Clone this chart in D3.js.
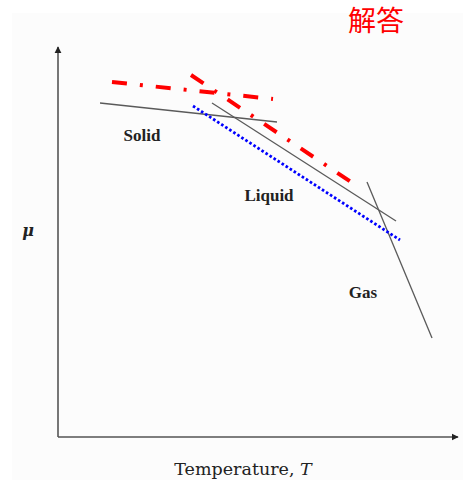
<!DOCTYPE html>
<html>
<head>
<meta charset="utf-8">
<script src="https://cdn.jsdelivr.net/npm/d3@7"></script>
<style>
  html, body { margin: 0; padding: 0; background: #fff; }
  svg { display: block; }
</style>
</head>
<body>
<svg id="chart" width="463" height="480"></svg>
<script>
// Chemical potential μ versus temperature T for the three phases (schematic units)
const solidLine  = [[1.05, 8.35], [5.475, 7.875]];
const liquidLine = [[3.85, 8.35], [8.45, 5.40]];
const gasLine    = [[7.725, 6.375], [9.35, 2.475]];

// Answer curves
const answerSolid  = [[1.35, 8.875], [5.375, 8.45]];
const answerLiquid = [[3.325, 9.05], [7.325, 6.375]];
const answerShift  = [[3.375, 8.275], [8.55, 4.925]];

const phaseLabels = [
  { text: "Solid",  at: [2.1, 7.4] },
  { text: "Liquid", at: [5.275, 5.9] },
  { text: "Gas",    at: [7.625, 3.47] }
];
const xTitle = "Temperature, ";
const xTitleVar = "T";
const yTitle = "μ";
const answerTitle = "解答";

const svg = d3.select("#chart");
const W = 463, H = 480;

// faint scanned-page background
svg.append("rect").attr("x", 12).attr("y", 13).attr("width", W - 12).attr("height", H - 13)
  .attr("fill", "#fcfcfc");

const x = d3.scaleLinear().domain([0, 10]).range([58, 458]);
const y = d3.scaleLinear().domain([0, 10]).range([437, 37]);

const defs = svg.append("defs");
defs.append("marker").attr("id", "arrow")
  .attr("viewBox", "0 0 10 10").attr("refX", 9).attr("refY", 5)
  .attr("markerWidth", 4.5).attr("markerHeight", 4.5).attr("orient", "auto")
  .attr("markerUnits", "strokeWidth")
  .append("path").attr("d", "M0,0 L10,5 L0,10 z").attr("fill", "#222");

// axes without ticks
const axisG = svg.append("g");
axisG.append("line")
  .attr("x1", x(0)).attr("y1", y(0)).attr("x2", x(10.0)).attr("y2", y(0))
  .attr("stroke", "#555").attr("stroke-width", 1.6).attr("marker-end", "url(#arrow)");
axisG.append("line")
  .attr("x1", x(0)).attr("y1", y(0)).attr("x2", x(0)).attr("y2", y(9.75))
  .attr("stroke", "#555").attr("stroke-width", 1.6).attr("marker-end", "url(#arrow)");

const line = d3.line().x(d => x(d[0])).y(d => y(d[1]));

// phase lines
[solidLine, liquidLine, gasLine].forEach(seg => {
  svg.append("path").datum(seg).attr("d", line)
    .attr("fill", "none").attr("stroke", "#5a5a5a").attr("stroke-width", 1.3);
});

// blue dotted shifted liquid line
svg.append("path").datum(answerShift).attr("d", line)
  .attr("fill", "none").attr("stroke", "#0000ff").attr("stroke-width", 2.8)
  .attr("stroke-dasharray", "2.6,2.2");

// red dash-dot lines
[answerSolid, answerLiquid].forEach(seg => {
  svg.append("path").datum(seg).attr("d", line)
    .attr("fill", "none").attr("stroke", "#ff0000").attr("stroke-width", 4)
    .attr("stroke-dasharray", "15,13,3,13");
});

// phase labels
svg.selectAll("text.phase").data(phaseLabels).join("text")
  .attr("class", "phase")
  .attr("x", d => x(d.at[0])).attr("y", d => y(d.at[1]))
  .attr("text-anchor", "middle")
  .attr("font-family", "'Liberation Serif', 'DejaVu Serif', serif")
  .attr("font-weight", "bold").attr("font-size", 17).attr("fill", "#222")
  .text(d => d.text);

// axis titles
const xt = svg.append("text")
  .attr("x", 243).attr("y", 475).attr("text-anchor", "middle")
  .attr("font-family", "'DejaVu Serif', 'Liberation Serif', serif")
  .attr("font-size", 17.5).attr("fill", "#222");
xt.append("tspan").text(xTitle);
xt.append("tspan").attr("font-style", "italic").text(xTitleVar);

svg.append("text").attr("x", 28).attr("y", 236).attr("text-anchor", "middle")
  .attr("font-family", "'DejaVu Serif', serif").attr("font-style", "italic")
  .attr("font-weight", "bold")
  .attr("font-size", 16).attr("fill", "#222").text(yTitle);

svg.append("text").attr("x", 348).attr("y", 31)
  .attr("font-family", "'Noto Sans CJK SC', sans-serif")
  .attr("font-size", 28).attr("fill", "#ff0000").text(answerTitle);
</script>
</body>
</html>
